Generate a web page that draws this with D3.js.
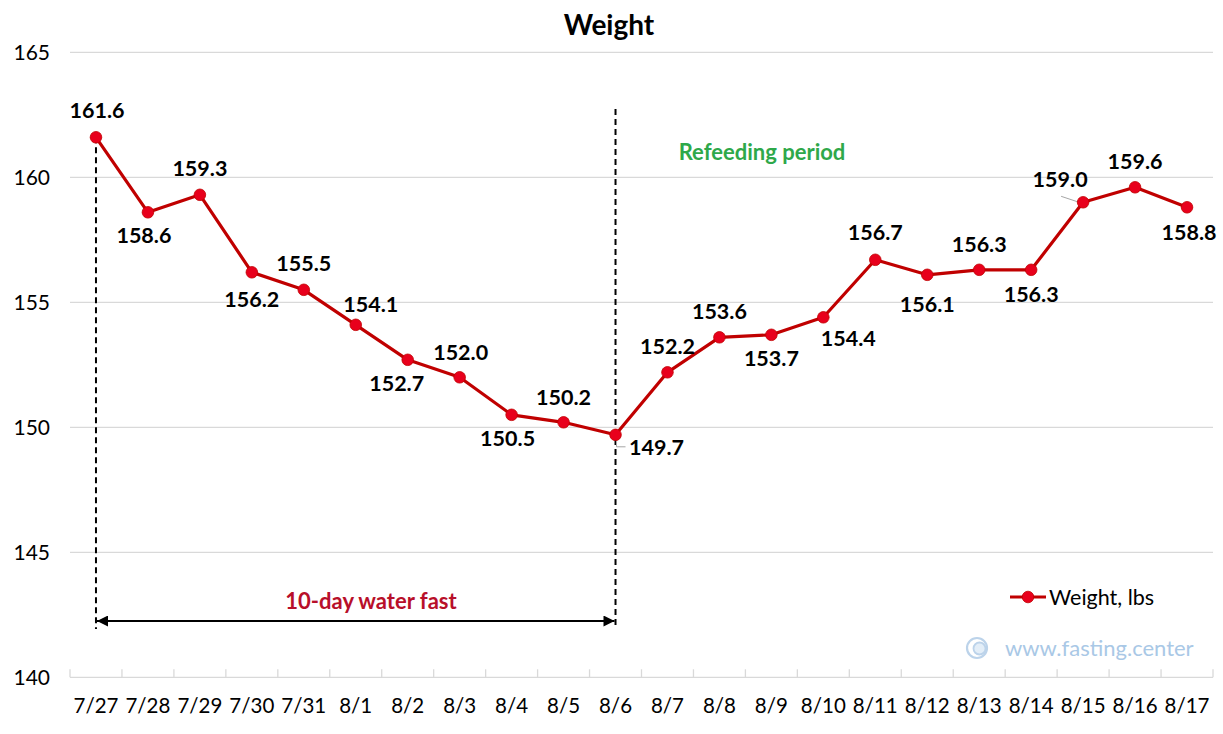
<!DOCTYPE html>
<html>
<head>
<meta charset="utf-8">
<script src="https://cdn.jsdelivr.net/npm/d3@7"></script>
<style>
  body { margin: 0; background: #fff; }
  svg { font-family: Lato, "Open Sans", sans-serif; }
</style>
</head>
<body>
<svg id="chart" width="1223" height="734"></svg>
<script>
const dates = ["7/27","7/28","7/29","7/30","7/31","8/1","8/2","8/3","8/4","8/5","8/6",
  "8/7","8/8","8/9","8/10","8/11","8/12","8/13","8/14","8/15","8/16","8/17"];
const weights = [161.6,158.6,159.3,156.2,155.5,154.1,152.7,152.0,150.5,150.2,149.7,
  152.2,153.6,153.7,154.4,156.7,156.1,156.3,156.3,159.0,159.6,158.8];
const yTicks = [140,145,150,155,160,165];
const fastStart = "7/27";
const fastEnd = "8/6";

// label offsets from each point (layout only)
const labelOffsets = [
  [1,-27],[-4,23],[0,-26],[0,27],[0,-26],[15,-20],[-11,24],[1,-25],[-4,24],[0,-25],[41,13],
  [0,-26],[0,-26],[0,24],[25,21],[0,-27],[0,30],[0,-25],[0,25],[-23,-23],[0,-26],[2,25]
];

const svg = d3.select("#chart");
const lineColor = "#c00000";
const dotColor = "#e8001c";

const x = d3.scaleBand().domain(dates).range([70, 1213]).padding(0);
const y = d3.scaleLinear().domain([140, 165]).range([677.3, 52.3]);
const cx = d => x(d) + x.bandwidth() / 2;

// title
svg.append("text")
  .attr("x", 609).attr("y", 35)
  .attr("text-anchor", "middle")
  .attr("font-size", 28).attr("font-weight", "bold")
  .text("Weight");

// gridlines
svg.append("g").selectAll("line")
  .data(yTicks)
  .join("line")
  .attr("x1", 70).attr("x2", 1213)
  .attr("y1", d => y(d)).attr("y2", d => y(d))
  .attr("stroke", "#d9d9d9").attr("stroke-width", 1.3);

// y tick labels
svg.append("g").selectAll("text")
  .data(yTicks)
  .join("text")
  .attr("x", 50).attr("y", d => y(d))
  .attr("dy", "0.35em")
  .attr("text-anchor", "end")
  .attr("font-size", 21)
  .text(d => d);

// x axis ticks (inside, at band edges)
const edges = dates.map(d => x(d)).concat([x(dates[dates.length - 1]) + x.bandwidth()]);
svg.append("g").selectAll("line")
  .data(edges)
  .join("line")
  .attr("x1", d => d).attr("x2", d => d)
  .attr("y1", y(140) - 8).attr("y2", y(140))
  .attr("stroke", "#d9d9d9").attr("stroke-width", 1.3);

svg.append("g").selectAll("text")
  .data(dates)
  .join("text")
  .attr("x", d => cx(d)).attr("y", 713)
  .attr("text-anchor", "middle")
  .attr("font-size", 20.5)
  .text(d => d);

// dashed markers for fast period
const dash = svg.append("g")
  .attr("stroke", "#000").attr("stroke-width", 2)
  .attr("stroke-dasharray", "6,4");
dash.append("line")
  .attr("x1", cx(fastStart)).attr("x2", cx(fastStart))
  .attr("y1", y(weights[0])).attr("y2", 629);
dash.append("line")
  .attr("x1", cx(fastEnd)).attr("x2", cx(fastEnd))
  .attr("y1", 109).attr("y2", 626);

// double arrow
const defs = svg.append("defs");
defs.append("marker")
  .attr("id", "arr").attr("viewBox", "0 0 10 10")
  .attr("refX", 10).attr("refY", 5)
  .attr("markerWidth", 8).attr("markerHeight", 5.5)
  .attr("markerUnits", "strokeWidth")
  .attr("orient", "auto-start-reverse")
  .append("path").attr("d", "M0,0L10,5L0,10z").attr("fill", "#000");

svg.append("line")
  .attr("x1", cx(fastStart) + 1).attr("x2", cx(fastEnd) - 1)
  .attr("y1", 621).attr("y2", 621)
  .attr("stroke", "#000").attr("stroke-width", 2)
  .attr("marker-start", "url(#arr)").attr("marker-end", "url(#arr)");

svg.append("text")
  .attr("x", 371).attr("y", 601).attr("dy", "0.35em")
  .attr("text-anchor", "middle")
  .attr("font-size", 22).attr("font-weight", "bold")
  .attr("fill", "#b80f2a")
  .text("10-day water fast");

svg.append("text")
  .attr("x", 762).attr("y", 152).attr("dy", "0.35em")
  .attr("text-anchor", "middle")
  .attr("font-size", 22).attr("font-weight", "bold")
  .attr("fill", "#2ea84a")
  .text("Refeeding period");

// leader lines
const iEnd = dates.indexOf(fastEnd);
const iLead = dates.indexOf("8/15");
svg.append("path")
  .attr("d", `M${cx(dates[iEnd]) + 1},${y(weights[iEnd]) + 6}V${y(weights[iEnd]) + 12}H${cx(dates[iEnd]) + 10}`)
  .attr("fill", "none").attr("stroke", "#a6a6a6").attr("stroke-width", 1);
svg.append("line")
  .attr("x1", cx(dates[iLead]) - 22).attr("y1", y(weights[iLead]) - 6)
  .attr("x2", cx(dates[iLead]) - 4).attr("y2", y(weights[iLead]))
  .attr("stroke", "#a6a6a6").attr("stroke-width", 1);

// line + markers
const line = d3.line().x((d, i) => cx(dates[i])).y(d => y(d));
svg.append("path")
  .datum(weights)
  .attr("d", line)
  .attr("fill", "none")
  .attr("stroke", lineColor).attr("stroke-width", 3.2)
  .attr("stroke-linejoin", "round");

svg.append("g").selectAll("circle")
  .data(weights)
  .join("circle")
  .attr("cx", (d, i) => cx(dates[i])).attr("cy", d => y(d))
  .attr("r", 5.8)
  .attr("fill", dotColor)
  .attr("stroke", lineColor).attr("stroke-width", 0.8);

// data labels
svg.append("g").selectAll("text")
  .data(weights)
  .join("text")
  .attr("x", (d, i) => cx(dates[i]) + labelOffsets[i][0])
  .attr("y", (d, i) => y(d) + labelOffsets[i][1])
  .attr("dy", "0.35em")
  .attr("text-anchor", "middle")
  .attr("font-size", 21.5).attr("font-weight", "bold")
  .text(d => d.toFixed(1));

// legend
const lg = svg.append("g").attr("transform", "translate(1010,597)");
lg.append("line").attr("x1", 0).attr("x2", 36)
  .attr("stroke", lineColor).attr("stroke-width", 3.2);
lg.append("circle").attr("cx", 18).attr("r", 5.8)
  .attr("fill", dotColor).attr("stroke", lineColor).attr("stroke-width", 0.8);
lg.append("text").attr("x", 39).attr("dy", "0.35em")
  .attr("font-size", 21.5)
  .text("Weight, lbs");

// watermark
const wm = svg.append("g").attr("transform", "translate(977,648)");
wm.append("circle").attr("r", 10).attr("fill", "none")
  .attr("stroke", "#bcd3ea").attr("stroke-width", 2.2);
wm.append("circle").attr("cx", 2.5).attr("cy", 0.5).attr("r", 6).attr("fill", "#e3eef8")
  .attr("stroke", "#bcd3ea").attr("stroke-width", 1.8);
svg.append("text")
  .attr("x", 1005).attr("y", 648).attr("dy", "0.35em")
  .attr("font-size", 22)
  .attr("fill", "#a9c8e6")
  .text("www.fasting.center");
</script>
</body>
</html>
